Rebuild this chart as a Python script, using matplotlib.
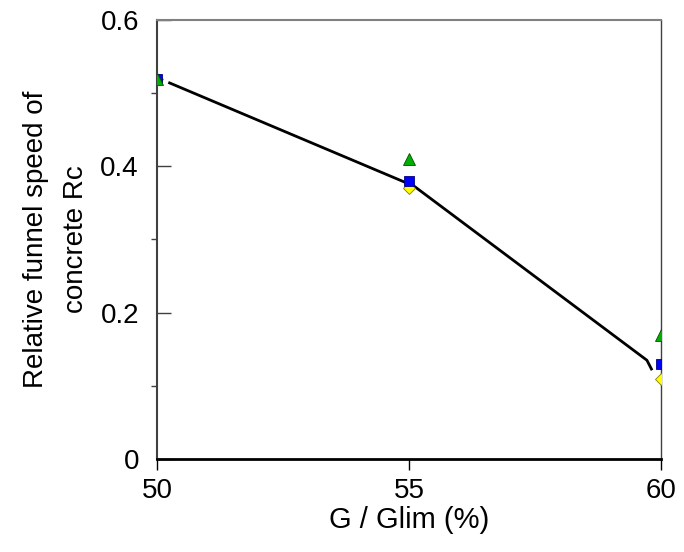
import matplotlib
matplotlib.use("Agg")
from matplotlib import pyplot as plt
from matplotlib.ticker import MultipleLocator

plt.rcParams['font.family'] = ['Liberation Sans', 'DejaVu Sans']

# measured points
ratio = [50, 55, 60]
rc_green = [0.52, 0.41, 0.17]
rc_blue = [0.52, 0.38, 0.13]
rc_yellow = [0.52, 0.37, 0.11]

# fitted line as drawn
line_x = [50.25, 55.1, 59.72, 59.81]
line_y = [0.514, 0.373, 0.135, 0.123]

fig = plt.figure(figsize=(6.84, 5.52), dpi=100)
ax = fig.add_axes([157/684, 1-459/552, (661-157)/684, (459-20)/552])

ax.plot(line_x, line_y, color='black', lw=2, zorder=2)
ax.plot(ratio, rc_yellow, ls='none', marker='D', ms=6, mfc='#ffff00', mec='#808000', mew=0.6, zorder=3)
ax.plot(ratio, rc_blue, ls='none', marker='s', ms=7, mfc='#0000ff', mec='#000080', mew=0.6, zorder=3)
ax.plot(ratio, rc_green, ls='none', marker='^', ms=8, mfc='#00b000', mec='#005000', mew=0.6, zorder=3)

ax.set_xlim(50, 60)
ax.set_ylim(0, 0.6)
ax.set_xticks([50, 55, 60])
ax.set_yticks([0, 0.2, 0.4, 0.6])
ax.set_yticklabels(['0', '0.2', '0.4', '0.6'])
ax.yaxis.set_minor_locator(MultipleLocator(0.1))
ax.tick_params(axis='x', which='major', direction='out', length=8, width=1, labelsize=20, pad=6)
ax.tick_params(axis='y', which='major', direction='in', length=10, width=1, labelsize=20, pad=13, color='#404040')
ax.tick_params(axis='y', which='minor', direction='out', length=4, width=1, color='#404040')

ax.spines['bottom'].set_linewidth(2)
ax.spines['left'].set_color('#404040')
ax.spines['left'].set_linewidth(1.5)
ax.spines['top'].set_color('#808080')
ax.spines['top'].set_linewidth(1.5)
ax.spines['right'].set_color('#404040')
ax.spines['right'].set_linewidth(1)

ax.set_xlabel('G / Glim (%)', fontsize=21, labelpad=1)
ax.set_ylabel('Relative funnel speed of\nconcrete Rc', fontsize=20, labelpad=8, linespacing=1.7)

fig.savefig('out.png', dpi=100)
